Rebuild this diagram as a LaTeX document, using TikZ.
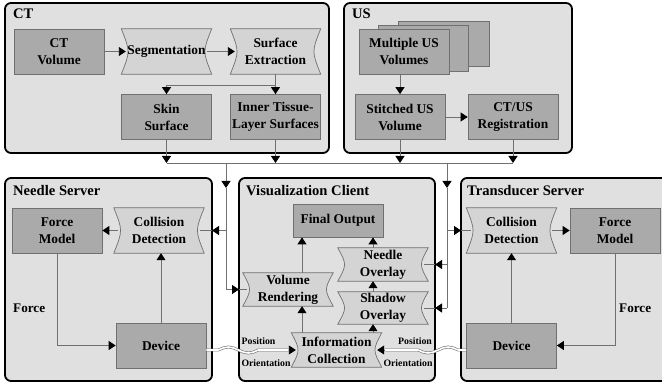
\documentclass[tikz,border=0pt]{standalone}
\usepackage{fontspec}
\setmainfont{Liberation Serif}
\usepackage{tikz}
\usetikzlibrary{calc,arrows.meta,positioning}
\definecolor{panelfill}{HTML}{E0E0E0}
\definecolor{boxfill}{HTML}{AAAAAA}
\definecolor{procfill}{HTML}{D4D4D4}
\definecolor{edge}{HTML}{707070}
\pgfdeclarelayer{back}
\pgfdeclarelayer{mid}
\pgfsetlayers{back,mid,main}
\tikzset{
  panel/.style={draw=black, line width=1.8pt, fill=panelfill, rounded corners=6pt},
  paneltitle/.style={anchor=base west, inner sep=0pt, font=\bfseries\fontsize{14.6}{17}\selectfont},
  datbox/.style={draw=edge, line width=0.7pt, fill=boxfill, minimum width=90pt, minimum height=45pt,
    inner sep=1pt, align=center, font=\bfseries\fontsize{13.4}{17}\selectfont},
  stack/.style={draw=edge, line width=0.7pt, fill=boxfill},
  proc/.style={minimum width=90pt, minimum height=45pt, inner sep=1pt, align=center,
    font=\bfseries\fontsize{13.4}{17}\selectfont},
  bowline/.style={draw=edge, line width=0.7pt, fill=procfill},
  conn/.style={draw=edge, line width=0.9pt},
  arr/.style={conn, -{Triangle[length=7pt,width=9pt,color=black]}},
  into/.style={shorten >=-4.5pt},
  outof/.style={shorten <=-4.5pt},
  wave/.style={draw=edge, line width=0.6pt, double=white, double distance=1.6pt},
  lbl/.style={inner sep=0pt, font=\bfseries\fontsize{13.2}{15}\selectfont},
  tinylbl/.style={inner sep=0pt, font=\bfseries\fontsize{9.8}{11}\selectfont}
}
% concave sides for the processing steps
\newcommand{\bowshape}[1]{%
  \begin{pgfonlayer}{mid}
    \draw[bowline] (#1.north west) .. controls ($(#1.west)+(9,0)$) .. (#1.south west)
      -- (#1.south east) .. controls ($(#1.east)+(-9,0)$) .. (#1.north east) -- cycle;
  \end{pgfonlayer}}

\begin{document}
\begin{tikzpicture}[x=1pt,y=-1pt]
  \useasboundingbox (0,0) rectangle (662,385);

  % panels
  \begin{pgfonlayer}{back}
    \draw[panel] (5,3) rectangle (329,153);
    \draw[panel] (344,3) rectangle (572,153);
    \draw[panel] (5,178) rectangle (212,381);
    \draw[panel] (239,178) rectangle (435,381);
    \draw[panel] (663,178) -- (461,178) -- (461,381) -- (663,381);
  \end{pgfonlayer}

  \node[paneltitle] (cttitle) at (13,19) {CT};
  \node[paneltitle] (ustitle) at (352,19) {US};
  \node[paneltitle] (nstitle) at (13,196) {Needle Server};
  \node[paneltitle] (vctitle) at (246,196) {Visualization Client};
  \node[paneltitle] (tstitle) at (467,196) {Transducer Server};

  % CT
  \node[datbox] (ctvol) at (59,51.5) {CT\\Volume};
  \node[proc] (seg) at (166.5,51.5) {Segmentation};
  \node[proc] (surfx) at (275.5,51.5) {Surface\\Extraction};
  \node[datbox] (skin) at (166.5,117) {Skin\\Surface};
  \node[datbox] (inner) at (275.5,117) {Inner Tissue-\\Layer Surfaces};
  \bowshape{seg}
  \bowshape{surfx}
  \coordinate (split) at (275.5,85);
  \draw[arr,into] (ctvol) -- (seg);
  \draw[arr,outof,into] (seg) -- (surfx);
  \draw[arr] (surfx.south) -- (inner.north);
  \draw[arr] (split) -| (skin.north);

  % US
  \draw[stack] (398,21) rectangle (489,66);
  \draw[stack] (378,25) rectangle (468,71);
  \node[datbox] (multi) at (404,51.5) {Multiple US\\Volumes};
  \node[datbox] (stitch) at (400,117) {Stitched US\\Volume};
  \node[datbox] (reg) at (513,117) {CT/US\\Registration};
  \draw[arr] (multi.south -| stitch.north) -- (stitch.north);
  \draw[arr] (stitch) -- (reg);

  % Needle Server
  \node[datbox] (nforce) at (57,230.5) {Force\\Model};
  \node[proc] (ncoll) at (159,230.5) {Collision\\Detection};
  \node[datbox] (ndev) at (161,345.5) {Device};
  \node[lbl, anchor=west] (nflbl) at (13,308) {Force};
  \bowshape{ncoll}
  \draw[arr,outof] (ncoll) -- (nforce);
  \draw[arr] (nforce.south) |- (ndev.west);
  \draw[arr] (ndev.north) -- (ndev.north |- ncoll.south);

  % Visualization Client
  \node[datbox, minimum height=33pt] (final) at (338,220.5) {Final Output};
  \node[proc, minimum height=33pt] (needov) at (383,264.5) {Needle\\Overlay};
  \node[proc, minimum height=32pt] (shadov) at (383,308) {Shadow\\Overlay};
  \node[proc, minimum height=33pt] (volrend) at (288,289.5) {Volume\\Rendering};
  \node[proc, minimum height=34pt] (info) at (336.5,350) {Information\\Collection};
  \bowshape{needov}
  \bowshape{shadov}
  \bowshape{volrend}
  \bowshape{info}
  \coordinate (colL) at (302,0);
  \coordinate (colR) at (373,0);
  \draw[arr] (info.north -| colL) -- (volrend.south -| colL);
  \draw[arr] (volrend.north -| colL) -- (final.south -| colL);
  \draw[arr] (info.north -| colR) -- (shadov.south -| colR);
  \draw[arr] (shadov.north -| colR) -- (needov.south -| colR);
  \draw[arr] (needov.north -| colR) -- (final.south -| colR);

  % Transducer Server
  \node[proc] (tcoll) at (511.5,230.5) {Collision\\Detection};
  \node[datbox] (tforce) at (615,230.5) {Force\\Model};
  \node[datbox] (tdev) at (511.5,345.5) {Device};
  \node[lbl, anchor=west] (tflbl) at (619,308) {Force};
  \bowshape{tcoll}
  \draw[arr,outof] (tcoll) -- (tforce);
  \draw[arr] (tforce.south) |- (tdev.east);
  \draw[arr] (tdev.north) -- (tcoll.south);

  % bus from CT/US to the clients
  \coordinate (bus) at (0,163);
  \coordinate (tipy) at (0,188);
  \coordinate (dropL) at (226,163);
  \coordinate (dropR) at (447,163);
  \coordinate (nsE) at (212,0);
  \coordinate (vcW) at (239,0);
  \coordinate (vcE) at (435,0);
  \coordinate (tsW) at (461,0);
  \draw[conn] (skin.south |- bus) -- (reg.south |- bus);
  \draw[arr] (skin.south) -- (skin.south |- bus);
  \draw[arr] (inner.south) -- (inner.south |- bus);
  \draw[arr] (stitch.south) -- (stitch.south |- bus);
  \draw[arr] (reg.south) -- (reg.south |- bus);

  \draw[arr] (dropL) -- (dropL |- tipy);
  \draw[conn] (dropL |- tipy) -- (dropL |- volrend);
  \draw[arr] (dropL |- ncoll) -- (nsE |- ncoll);
  \draw[conn,into] (nsE |- ncoll) -- (ncoll.east);
  \draw[arr] (dropL |- volrend) -- (vcW |- volrend);
  \draw[conn,into] (vcW |- volrend) -- (volrend.west);

  \draw[arr] (dropR) -- (dropR |- tipy);
  \draw[conn] (dropR |- tipy) -- (dropR |- shadov);
  \draw[arr] (dropR |- tcoll) -- (tsW |- tcoll);
  \draw[conn,into] (tsW |- tcoll) -- (tcoll.west);
  \draw[arr] (dropR |- needov) -- (vcE |- needov);
  \draw[conn,into] (vcE |- needov) -- (needov.east);
  \draw[arr] (dropR |- shadov) -- (vcE |- shadov);
  \draw[conn,into] (vcE |- shadov) -- (shadov.east);

  % position / orientation links
  \coordinate (lwe) at (288.5,350);
  \coordinate (rwe) at (384.5,350);
  \draw[wave] (ndev.east |- info) -- ++(12,0) sin ++(10,-3) cos ++(10,3) sin ++(10,3) cos ++(10,-3) -- (lwe);
  \draw[arr,into] (lwe) -- (info.west);
  \draw[wave] (tdev.west |- info) -- ++(-8,0) sin ++(-10,-3) cos ++(-10,3) sin ++(-10,3) cos ++(-10,-3) -- (rwe);
  \draw[arr,into] (rwe) -- (info.east);
  \node[tinylbl] (lpos) at (258.5,341) {Position};
  \node[tinylbl] (lori) at (266,363) {Orientation};
  \node[tinylbl] (rpos) at (415,341) {Position};
  \node[tinylbl] (rori) at (408,363) {Orientation};
\end{tikzpicture}
\end{document}
